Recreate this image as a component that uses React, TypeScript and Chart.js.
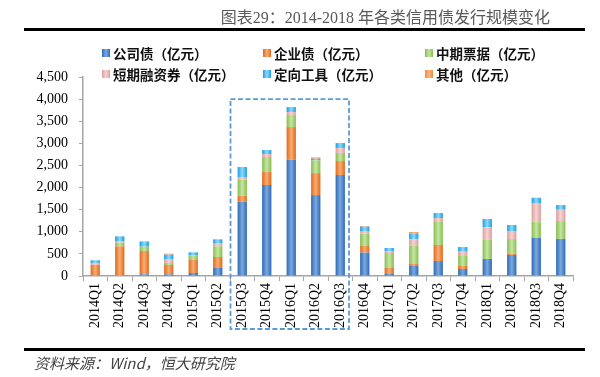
import React, { useEffect, useRef } from "react";
import { Chart, registerables } from "chart.js";

Chart.register(...registerables);

// ---- data ----
const quarters = [
  "2014Q1", "2014Q2", "2014Q3", "2014Q4",
  "2015Q1", "2015Q2", "2015Q3", "2015Q4",
  "2016Q1", "2016Q2", "2016Q3", "2016Q4",
  "2017Q1", "2017Q2", "2017Q3", "2017Q4",
  "2018Q1", "2018Q2", "2018Q3", "2018Q4",
];
const corporateBonds = [0, 0, 38, 38, 68, 181, 1680, 2057, 2629, 1830, 2283, 528, 45, 226, 339, 158, 384, 475, 866, 836];
const enterpriseBonds = [250, 671, 527, 211, 294, 249, 136, 294, 739, 497, 316, 151, 136, 45, 362, 68, 0, 30, 0, 0];
const mediumTermNotes = [0, 83, 98, 45, 90, 241, 369, 339, 271, 286, 181, 279, 339, 422, 520, 226, 445, 331, 362, 407];
const shortTermBills = [45, 38, 0, 90, 23, 75, 53, 68, 68, 0, 113, 45, 45, 136, 90, 98, 271, 181, 422, 256];
const privatePlacement = [60, 105, 120, 98, 60, 83, 226, 90, 113, 38, 113, 113, 68, 128, 113, 105, 188, 136, 120, 105];
const otherBonds = [0, 0, 0, 23, 0, 0, 0, 0, 0, 30, 0, 15, 0, 38, 0, 0, 0, 0, 0, 0];

const seriesNames = [
  "公司债（亿元）", "企业债（亿元）", "中期票据（亿元）",
  "短期融资券（亿元）", "定向工具（亿元）", "其他（亿元）",
];
const seriesValues = [corporateBonds, enterpriseBonds, mediumTermNotes, shortTermBills, privatePlacement, otherBonds];
const edgeColors = ["#2C6BB5", "#E2691C", "#86BE4E", "#DE9C9C", "#15A0E6", "#F38B3C"];
const midColors = ["#7DA8DE", "#F6AE73", "#C7E5A4", "#F5D4D4", "#93D8F8", "#F9B57F"];

const yTicks = ["0", "500", "1,000", "1,500", "2,000", "2,500", "3,000", "3,500", "4,000", "4,500"];
const yStep = 500;
const yMax = 4500;

const highlightFrom = "2015Q3";
const highlightTo = "2016Q3";
const highlightTop = 4000;

const titleText = "图表29：2014-2018 年各类信用债发行规模变化";
const sourceText = "资料来源：Wind，恒大研究院";

// ---- style constants ----
const CAT_PCT = 0.38;
const BAR_PCT = 1;

function barFill(i: number) {
  return (ctx: any) => {
    const chart = ctx.chart;
    const xs = chart.scales && chart.scales.x;
    if (!xs || ctx.type !== "data" || !chart.chartArea) return edgeColors[i];
    const cx = xs.getPixelForValue(ctx.dataIndex);
    const w = (xs.width / quarters.length) * CAT_PCT * BAR_PCT;
    const g = chart.ctx.createLinearGradient(cx - w / 2, 0, cx + w / 2, 0);
    g.addColorStop(0, edgeColors[i]);
    g.addColorStop(0.5, midColors[i]);
    g.addColorStop(1, edgeColors[i]);
    return g;
  };
}

const highlightPlugin = {
  id: "highlightBox",
  afterDraw(chart: any) {
    const xs = chart.scales.x;
    const ys = chart.scales.y;
    const cat = xs.width / quarters.length;
    const i0 = quarters.indexOf(highlightFrom);
    const i1 = quarters.indexOf(highlightTo);
    const left = xs.getPixelForValue(i0) - cat / 2 + 0.5;
    const right = xs.getPixelForValue(i1) + cat / 2 - 3.5;
    const top = ys.getPixelForValue(highlightTop);
    const bottom = xs.bottom - 3;
    const c = chart.ctx;
    c.save();
    c.strokeStyle = "#5B9BD5";
    c.lineWidth = 1.8;
    c.setLineDash([5, 2.5]);
    c.strokeRect(left, top, right - left, bottom - top);
    c.restore();
  },
};

export default function App() {
  const ref = useRef<HTMLCanvasElement | null>(null);

  useEffect(() => {
    if (!ref.current) return;
    const chart = new Chart(ref.current, {
      type: "bar",
      data: {
        labels: quarters,
        datasets: seriesNames.map((name, i) => ({
          label: name,
          data: seriesValues[i],
          backgroundColor: barFill(i),
          borderWidth: 0,
          categoryPercentage: CAT_PCT,
          barPercentage: BAR_PCT,
        })),
      },
      options: {
        animation: false,
        responsive: false,
        maintainAspectRatio: false,
        layout: { padding: { left: 0, right: 27, top: 77, bottom: 45 } },
        plugins: { legend: { display: false }, tooltip: { enabled: false } },
        scales: {
          x: {
            stacked: true,
            afterFit: (s: any) => { s.height = 56; },
            grid: {
              display: true,
              drawOnChartArea: false,
              drawTicks: true,
              tickLength: 5,
              color: "#A6A6A6",
              lineWidth: 1,
              offset: true,
            },
            border: { display: true, color: "#A6A6A6", width: 1.5 },
            ticks: {
              autoSkip: false,
              minRotation: 90,
              maxRotation: 90,
              padding: 2,
              color: "#000",
              font: { family: "'Liberation Serif', 'Times New Roman', serif", size: 14 },
            },
          },
          y: {
            stacked: true,
            min: 0,
            max: yMax,
            afterFit: (s: any) => { s.width = 83; },
            grid: {
              display: true,
              drawOnChartArea: false,
              drawTicks: true,
              tickLength: 4,
              color: "#A6A6A6",
            },
            border: { display: true, color: "#A6A6A6", width: 1.5 },
            ticks: {
              stepSize: yStep,
              padding: 11,
              color: "#000",
              font: { family: "'Liberation Serif', 'Times New Roman', serif", size: 14 },
              callback: (_v: any, idx: number) => yTicks[idx],
            },
          },
        },
      },
      plugins: [highlightPlugin],
    });
    return () => chart.destroy();
  }, []);

  const legendCols = [102, 263, 425];
  const legendRows = [53, 74];

  return (
    <div style={{ position: "fixed", left: 0, top: 0, width: 600, height: 377, background: "#fff", overflow: "hidden" }}>
      <canvas ref={ref} width={600} height={377} style={{ position: "absolute", left: 0, top: 0, width: 600, height: 377 }} />
      <div
        style={{
          position: "absolute", right: 50, top: 8, height: 20, lineHeight: "20px",
          fontFamily: "'Liberation Serif', 'Noto Sans CJK SC', serif", fontSize: 16, color: "#595959", whiteSpace: "nowrap",
        }}
      >
        {titleText}
      </div>
      <div style={{ position: "absolute", left: 24, top: 28, width: 561, height: 3, background: "#000" }} />
      {seriesNames.map((name, i) => (
        <div
          key={name}
          style={{
            position: "absolute",
            left: legendCols[i % 3],
            top: legendRows[Math.floor(i / 3)] - 10,
            height: 20,
            display: "flex",
            alignItems: "center",
            whiteSpace: "nowrap",
            fontFamily: "'Noto Sans CJK SC', sans-serif",
            fontWeight: 700,
            fontSize: 13.5,
            color: "#111",
          }}
        >
          <span
            style={{
              display: "inline-block", width: 8, height: 8, marginRight: 3,
              background: `linear-gradient(90deg, ${edgeColors[i]}, ${midColors[i]}, ${edgeColors[i]})`,
            }}
          />
          {name}
        </div>
      ))}
      <div style={{ position: "absolute", left: 24, top: 348, width: 561, height: 2.5, background: "#000" }} />
      <div
        style={{
          position: "absolute", left: 34, top: 353, height: 20, lineHeight: "20px",
          fontFamily: "'Noto Sans CJK SC', sans-serif", fontStyle: "italic", fontSize: 15, color: "#444", whiteSpace: "nowrap",
        }}
      >
        {sourceText}
      </div>
    </div>
  );
}
